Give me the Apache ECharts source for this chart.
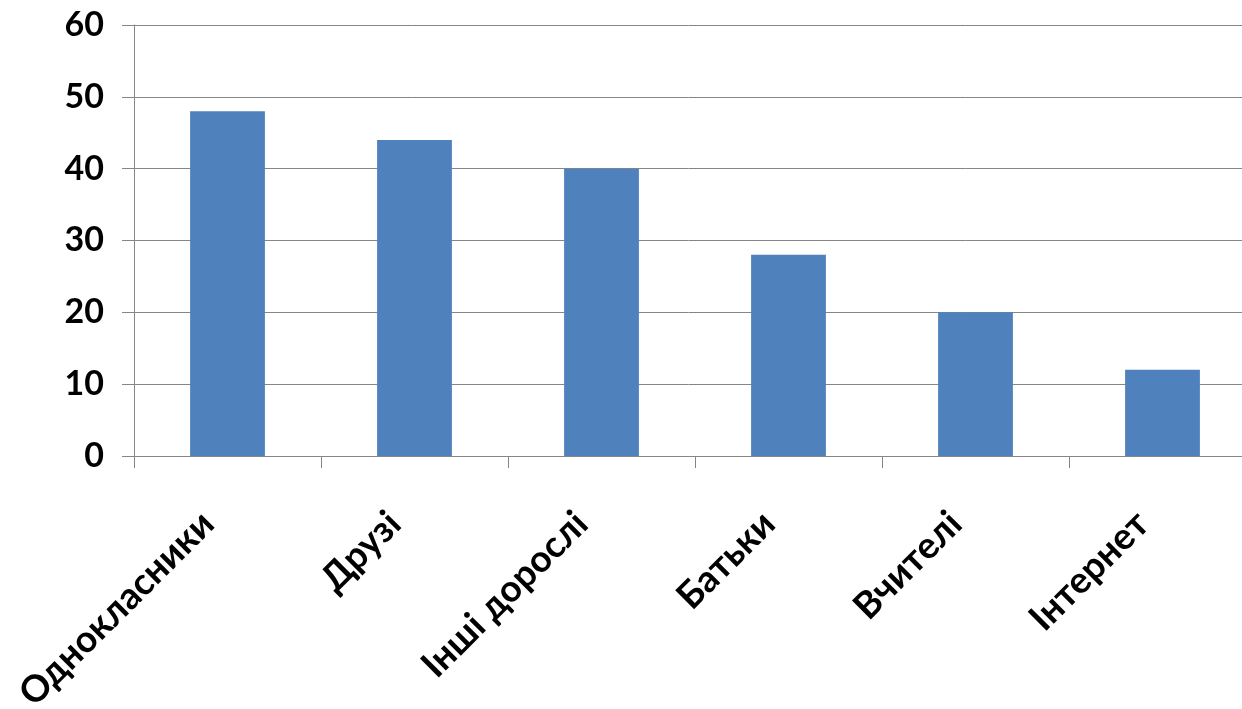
<!DOCTYPE html>
<html><head><meta charset="utf-8">
<script src="https://cdn.jsdelivr.net/npm/echarts@6/dist/echarts.min.js"></script>
<style>html,body{margin:0;padding:0;background:#fff;overflow:hidden}#c{width:1242px;height:709px}</style>
</head><body><div id="c"></div>
<script>
const categories = ["Однокласники", "Друзі", "Інші дорослі", "Батьки", "Вчителі", "Інтернет"];
const values = [48, 44, 40, 28, 20, 12];

const chart = echarts.init(document.getElementById('c'));
chart.setOption({
  animation: false,
  grid: { left: 134, top: 25, width: 1122, height: 431, containLabel: false, outerBoundsMode: 'none' },
  xAxis: {
    type: 'category',
    data: categories,
    axisLine: { lineStyle: { color: '#868686', width: 1 } },
    axisTick: { show: true, length: 12, lineStyle: { color: '#868686' } },
    axisLabel: { rotate: 45, margin: 42, interval: 0, padding: [0, 28, 14, 0], fontFamily: 'Lato', fontWeight: 'bold', fontSize: 37, color: '#000' }
  },
  yAxis: {
    type: 'value',
    min: 0, max: 60, interval: 10,
    axisLine: { show: true, lineStyle: { color: '#868686' } },
    axisTick: { show: true, inside: false, length: 12, lineStyle: { color: '#868686' } },
    axisLabel: { margin: 30, fontFamily: 'Lato', fontWeight: 'bold', fontSize: 34, color: '#000' },
    splitLine: { lineStyle: { color: '#868686', width: 1 } }
  },
  series: [{
    type: 'bar',
    data: values,
    barWidth: '40%',
    itemStyle: { color: '#4F81BD' }
  }]
});
</script></body></html>
